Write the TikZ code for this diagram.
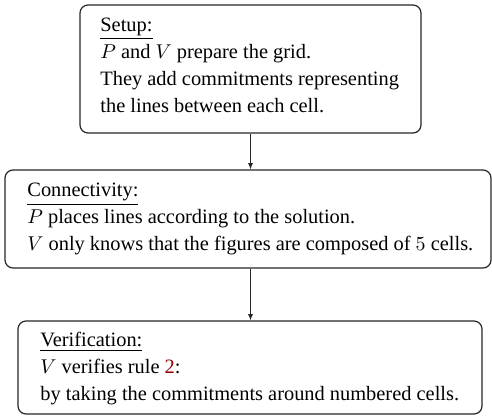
\documentclass[tikz,border=0pt]{standalone}
\usepackage{fontspec}
\setmainfont{Liberation Serif}
\usetikzlibrary{arrows.meta}
\definecolor{linkred}{rgb}{0.6,0,0}
\tikzset{
  stagebox/.style={draw=black!85, line width=0.6pt, rounded corners=4pt, inner sep=0pt},
  stagetext/.style={align=left, inner sep=0pt, anchor=west,
    font=\fontsize{10.2}{13.5}\selectfont},
  flowarrow/.style={draw=black!85, line width=0.5pt, -{Latex[length=3.2pt,width=2.6pt]}}
}
\begin{document}
\begin{tikzpicture}[x=0.5pt,y=-0.5pt]
\useasboundingbox (0,0) rectangle (492,418);
\node[stagebox, minimum width=170.5pt, minimum height=64pt] (setup) at (250.5,69) {};
\node[stagetext] (setupt) at (100,65.6)
  {\underline{Setup:}\\ $P$ and $V$ prepare the grid.\\ They add commitments representing\\ the lines between each cell.};
\node[stagebox, minimum width=243pt, minimum height=49pt] (conn) at (248,219) {};
\node[stagetext] (connt) at (27,219.3)
  {\underline{Connectivity:}\\ $P$ places lines according to the solution.\\ $V$ only knows that the figures are composed of $5$ cells.};
\node[stagebox, minimum width=232pt, minimum height=46.5pt] (verif) at (250,367.5) {};
\node[stagetext] (verift) at (40,369)
  {\underline{Verification:}\\ $V$ verifies rule \textcolor{linkred}{2}:\\ by taking the commitments around numbered cells.};
\draw[flowarrow] (setup.south) -- (setup.south |- conn.north);
\draw[flowarrow] (conn.south -| setup.south) -- (setup.south |- verif.north);
\end{tikzpicture}
\end{document}
